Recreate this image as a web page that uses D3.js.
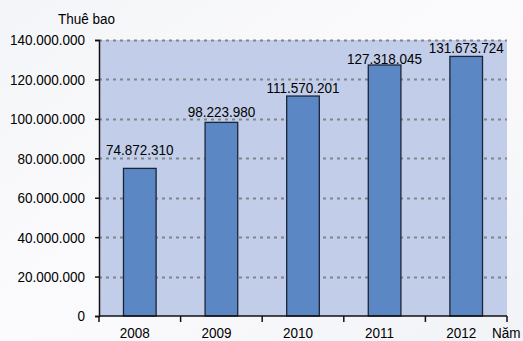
<!DOCTYPE html>
<html>
<head>
<meta charset="utf-8">
<script src="https://cdn.jsdelivr.net/npm/d3@7"></script>
<style>
  html, body { margin: 0; padding: 0; background: #f7f8fa; }
  svg { display: block; }
  text { font-family: "Liberation Sans", Arial, sans-serif; fill: #000; }
</style>
</head>
<body>
<svg id="chart" width="523" height="341"></svg>
<script>
// Subscriber counts per year
const years = ["2008", "2009", "2010", "2011", "2012"];
const subscribers = [74872310, 98223980, 111570201, 127318045, 131673724];
const yTicks = [0, 20000000, 40000000, 60000000, 80000000, 100000000, 120000000, 140000000];
const yLabel = "Thuê bao";
const xLabel = "Năm";

const svg = d3.select("#chart");
const W = 523, H = 341;
const plotL = 99, plotR = 507, plotT = 40, plotB = 316;
const FS = 13.5;        // label font size
const STRETCH = 1.13;   // glyphs are a little taller than wide
const bottomLine = 337.5; // baseline of the category row
// distance from each bar top to its value label baseline
const labelGap = [13, 5.5, 3.5, 1.3, 3];

// Soft page background
const defs = svg.append("defs");
const bg = defs.append("linearGradient").attr("id", "bg").attr("x1", 0).attr("y1", 0).attr("x2", 1).attr("y2", 1);
bg.append("stop").attr("offset", "0%").attr("stop-color", "#f4f5f8");
bg.append("stop").attr("offset", "50%").attr("stop-color", "#fbfbfd");
bg.append("stop").attr("offset", "100%").attr("stop-color", "#f2f3f7");
svg.append("rect").attr("width", W).attr("height", H).attr("fill", "url(#bg)");

const fmt = v => d3.format(",")(v).replace(/,/g, ".");
const place = (px, py) => `translate(${px},${py}) scale(1,${STRETCH})`;

const x = d3.scaleBand().domain(years).range([plotL, plotR]).paddingInner(0.6).paddingOuter(0.3);
const xEdges = d3.scaleLinear().domain([0, years.length]).range([plotL, plotR]);
const y = d3.scaleLinear().domain([0, 140000000]).range([plotB, plotT]);

// Plot area
svg.append("rect")
  .attr("x", plotL).attr("y", plotT)
  .attr("width", plotR - plotL).attr("height", plotB - plotT)
  .attr("fill", "#c2cee9");

// Dotted gridlines
svg.append("g").selectAll("line")
  .data(yTicks.filter(d => d > 0))
  .join("line")
  .attr("x1", plotL).attr("x2", plotR)
  .attr("y1", d => Math.round(y(d)) + 0.5).attr("y2", d => Math.round(y(d)) + 0.5)
  .attr("stroke", "#80858d").attr("stroke-width", 2)
  .attr("stroke-dasharray", "3,4");

const rows = years.map((yr, i) => ({ yr, v: subscribers[i], gap: labelGap[i] }));

// Bars
svg.append("g").selectAll("rect")
  .data(rows)
  .join("rect")
  .attr("x", d => x(d.yr)).attr("width", x.bandwidth())
  .attr("y", d => y(d.v)).attr("height", d => plotB - y(d.v))
  .attr("fill", "#5b87c5").attr("stroke", "#1c2535").attr("stroke-width", 1.3);

// Value labels
svg.append("g").selectAll("text")
  .data(rows)
  .join("text")
  .attr("transform", d => place(x(d.yr) + x.bandwidth() / 2, y(d.v) - d.gap))
  .attr("text-anchor", "middle")
  .attr("font-size", FS)
  .text(d => fmt(d.v));

// Y axis
const yAxis = svg.append("g")
  .attr("transform", `translate(${plotL},0)`)
  .call(d3.axisLeft(y).tickValues(yTicks).tickSize(4).tickPadding(10).tickFormat(fmt));
yAxis.select(".domain").attr("stroke", "#111").attr("stroke-width", 1.5);
yAxis.selectAll(".tick line").attr("stroke", "#111").attr("stroke-width", 1.5);
yAxis.selectAll(".tick text")
  .attr("font-size", FS)
  .attr("font-family", "Liberation Sans, Arial, sans-serif")
  .attr("fill", "#000")
  .attr("transform", `scale(1,${STRETCH})`);

// X axis: baseline with ticks at category boundaries
const xAxis = svg.append("g");
xAxis.append("line")
  .attr("x1", plotL).attr("x2", plotR)
  .attr("y1", plotB).attr("y2", plotB)
  .attr("stroke", "#111").attr("stroke-width", 1.5);
xAxis.selectAll("line.tk")
  .data(d3.range(years.length + 1))
  .join("line").attr("class", "tk")
  .attr("x1", d => xEdges(d)).attr("x2", d => xEdges(d))
  .attr("y1", plotB).attr("y2", plotB + 6)
  .attr("stroke", "#111").attr("stroke-width", 1.5);
xAxis.selectAll("text")
  .data(years)
  .join("text")
  .attr("transform", d => place(x(d) + x.bandwidth() / 2 - 5, bottomLine))
  .attr("text-anchor", "middle")
  .attr("font-size", FS)
  .text(d => d);

// Axis titles
svg.append("text").attr("transform", place(58, 24)).attr("font-size", FS).text(yLabel);
svg.append("text").attr("transform", place(492, bottomLine)).attr("font-size", FS).text(xLabel);
</script>
</body>
</html>
